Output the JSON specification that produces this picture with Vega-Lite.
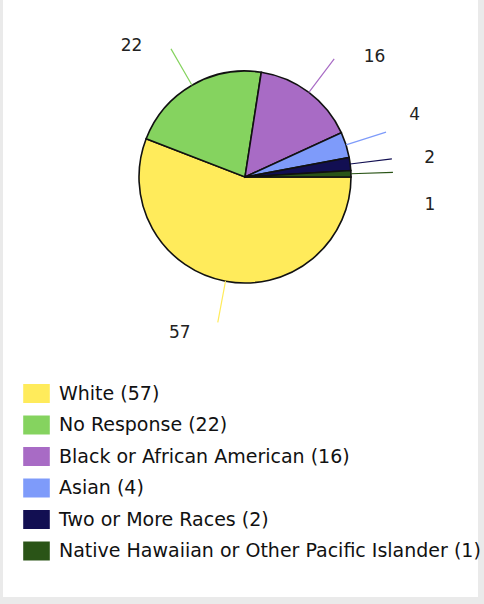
{
  "$schema": "https://vega.github.io/schema/vega-lite/v6.json",
  "background": "#eaeaea",
  "padding": {"left": 3, "right": 6, "top": 0, "bottom": 7},
  "spacing": 0,
  "config": {
    "view": {"fill": "white", "stroke": null},
    "concat": {"spacing": 0},
    "text": {"font": "DejaVu Sans"},
    "legend": {
      "orient": "none",
      "legendX": 24,
      "legendY": 384,
      "padding": 0,
      "symbolType": "M-1.4,-1H1.4V1H-1.4Z",
      "symbolSize": 361,
      "symbolStrokeWidth": 0,
      "symbolOpacity": 1,
      "labelFont": "DejaVu Sans",
      "labelFontSize": 19,
      "labelColor": "#111111",
      "labelOffset": 13,
      "rowPadding": 11.5,
      "labelLimit": 500
    }
  },
  "datasets": {
    "race": [
      {"race": "White", "value": 57, "label": "White (57)"},
      {"race": "No Response", "value": 22, "label": "No Response (22)"},
      {"race": "Black or African American", "value": 16, "label": "Black or African American (16)"},
      {"race": "Asian", "value": 4, "label": "Asian (4)"},
      {"race": "Two or More Races", "value": 2, "label": "Two or More Races (2)"},
      {"race": "Native Hawaiian or Other Pacific Islander", "value": 1, "label": "Native Hawaiian or Other Pacific Islander (1)"}
    ]
  },
  "vconcat": [
    {
      "spacing": 0,
      "hconcat": [
        {
          "width": 9,
          "height": 354,
          "view": {"fill": "white", "stroke": null},
          "data": {"values": [{}]},
          "mark": {"type": "text"},
          "encoding": {"text": {"value": ""}}
        },
        {
          "width": 466,
          "height": 354,
          "view": {"fill": "white", "stroke": null},
          "data": {"name": "race"},
          "encoding": {
            "theta": {"field": "value", "type": "quantitative", "stack": true, "scale": {"range": [1.5708, 7.854]}},
            "order": {"field": "value", "type": "quantitative", "sort": "descending"},
            "detail": {"field": "race"},
            "color": {
              "field": "label",
              "type": "nominal",
              "title": null,
              "scale": {
                "domain": ["White (57)", "No Response (22)", "Black or African American (16)", "Asian (4)", "Two or More Races (2)", "Native Hawaiian or Other Pacific Islander (1)"],
                "range": ["#FFEB5B", "#85D35F", "#A86BC5", "#7E9BFA", "#120F52", "#2A5417"]
              }
            }
          },
          "resolve": {"scale": {"theta": "independent"}},
          "layer": [
            {
              "mark": {"type": "arc", "outerRadius": 106, "stroke": "#111111", "strokeWidth": 1.6}
            },
            {
              "mark": {"type": "arc", "filled": false, "innerRadius": 106, "outerRadius": 148, "padAngle": 2.5, "strokeWidth": 1.2},
              "encoding": {
                "strokeOpacity": {"condition": {"test": "datum.race !== 'White'", "value": 1}, "value": 0}
              }
            },
            {
              "mark": {"type": "arc", "filled": false, "innerRadius": 106, "outerRadius": 148, "padAngle": 2.5, "strokeWidth": 1.2},
              "encoding": {
                "theta": {"field": "value", "type": "quantitative", "stack": true, "scale": {"range": [2.4487, 5.5903]}},
                "strokeOpacity": {"condition": {"test": "datum.race === 'White'", "value": 1}, "value": 0}
              }
            },
            {
              "mark": {"type": "text", "clip": true, "radius": 175, "dx": -33, "dy": -16, "fontSize": 17, "color": "#222222"},
              "encoding": {"color": {"value": "#222222"}, "text": {"condition": {"test": "datum.race === 'White'", "field": "value"}, "value": ""}}
            },
            {
              "mark": {"type": "text", "clip": true, "radius": 175, "dx": -26, "dy": 21, "fontSize": 17, "color": "#222222"},
              "encoding": {"color": {"value": "#222222"}, "text": {"condition": {"test": "datum.race === 'No Response'", "field": "value"}, "value": ""}}
            },
            {
              "mark": {"type": "text", "clip": true, "radius": 175, "dx": 24, "dy": 20, "fontSize": 17, "color": "#222222"},
              "encoding": {"color": {"value": "#222222"}, "text": {"condition": {"test": "datum.race === 'Black or African American'", "field": "value"}, "value": ""}}
            },
            {
              "mark": {"type": "text", "clip": true, "radius": 175, "dx": 3, "dy": -9, "fontSize": 17, "color": "#222222"},
              "encoding": {"color": {"value": "#222222"}, "text": {"condition": {"test": "datum.race === 'Asian'", "field": "value"}, "value": ""}}
            },
            {
              "mark": {"type": "text", "clip": true, "radius": 175, "dx": 11, "dy": 3, "fontSize": 17, "color": "#222222"},
              "encoding": {"color": {"value": "#222222"}, "text": {"condition": {"test": "datum.race === 'Two or More Races'", "field": "value"}, "value": ""}}
            },
            {
              "mark": {"type": "text", "clip": true, "radius": 175, "dx": 10, "dy": 33, "fontSize": 17, "color": "#222222"},
              "encoding": {"color": {"value": "#222222"}, "text": {"condition": {"test": "datum.race === 'Native Hawaiian or Other Pacific Islander'", "field": "value"}, "value": ""}}
            }
          ]
        }
      ]
    },
    {
      "width": 475,
      "height": 243,
      "view": {"fill": "white", "stroke": null},
      "data": {"values": [{}]},
      "mark": {"type": "text"},
      "encoding": {"text": {"value": ""}}
    }
  ]
}
